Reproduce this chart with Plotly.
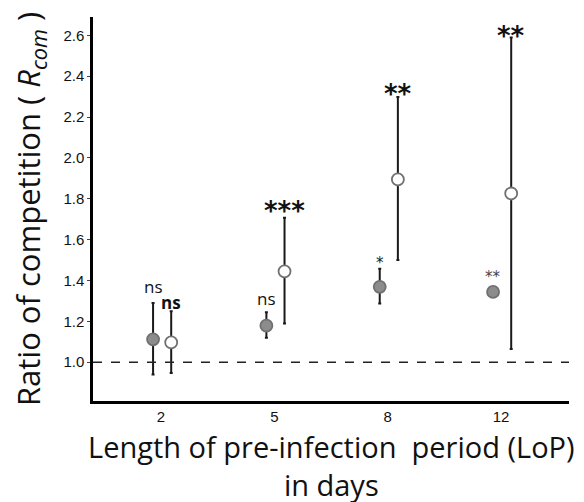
import plotly.graph_objects as go

categories = ["2", "5", "8", "12"]

# Series 1: grey filled points
grey_mean = [1.112, 1.179, 1.369, 1.344]
grey_upper = [1.29, 1.244, 1.458, 1.344]
grey_lower = [0.94, 1.12, 1.287, 1.344]
grey_sig = ["ns", "ns", "*", "**"]

# Series 2: open white points
white_mean = [1.097, 1.445, 1.895, 1.826]
white_upper = [1.25, 1.707, 2.298, 2.59]
white_lower = [0.947, 1.19, 1.50, 1.065]
white_sig = ["ns", "***", "**", "**"]

x_title = "Length of pre-infection  period (LoP)<br>in days"
y_title = "Ratio of competition ( <i>R<sub>com</sub></i> )"

idx = list(range(len(categories)))
gx = [i - 0.07 for i in idx]
wx = [i + 0.09 for i in idx]

fig = go.Figure()

def add_series(xs, mean, up, lo, fill):
    fig.add_trace(go.Scatter(
        x=xs, y=mean, mode="markers",
        marker=dict(size=12, color=fill, line=dict(color="#707070", width=1.8)),
        error_y=dict(type="data", symmetric=False,
                     array=[u - m for u, m in zip(up, mean)],
                     arrayminus=[m - l for m, l in zip(mean, lo)],
                     color="#1a1a1a", thickness=2, width=1.5),
        showlegend=False,
    ))

add_series(gx, grey_mean, grey_upper, grey_lower, "#8c8c8c")
add_series(wx, white_mean, white_upper, white_lower, "white")

# reference line at 1.0
fig.add_shape(type="line", xref="paper", x0=0, x1=1, yref="y", y0=1.0, y1=1.0,
              line=dict(color="#222", width=1.5, dash="dash"))

ns_font = "Open Sans"
star_font = "DejaVu Sans"

# grey series labels
grey_style = [
    dict(font=dict(family=ns_font, size=17, color="#111"), yshift=3, text="ns"),
    dict(font=dict(family=ns_font, size=17, color="#111"), yshift=0, text="ns"),
    dict(font=dict(family=star_font, size=15, color="#222"), yshift=-5, text="*"),
    dict(font=dict(family=star_font, size=15, color="#444"), yshift=4, text="**"),
]
for x, y, t, st in zip(gx, grey_upper, grey_sig, grey_style):
    fig.add_annotation(x=x, y=y, text=st["text"], showarrow=False, yanchor="bottom",
                       yshift=st["yshift"], font=st["font"])

white_style = [
    dict(font=dict(family=ns_font, size=17, color="#111"), yshift=-5, text="<b>ns</b>"),
    dict(font=dict(family=star_font, size=26, color="#111"), yshift=-10, text="<b>***</b>"),
    dict(font=dict(family=star_font, size=26, color="#111"), yshift=-14, text="<b>**</b>"),
    dict(font=dict(family=star_font, size=26, color="#111"), yshift=-16, text="<b>**</b>"),
]
for x, y, t, st in zip(wx, white_upper, white_sig, white_style):
    fig.add_annotation(x=x, y=y, text=st["text"], showarrow=False, yanchor="bottom",
                       yshift=st["yshift"], font=st["font"])

# x-axis title (placed as paper annotation for exact position)
fig.add_annotation(x=0.5, y=0, xref="paper", yref="paper", xanchor="center",
                   yanchor="top", yshift=-24, text=x_title, showarrow=False,
                   font=dict(family="Open Sans", size=29, color="#111"))

fig.update_layout(
    width=584, height=502,
    margin=dict(l=93, r=15, t=17, b=101),
    plot_bgcolor="white", paper_bgcolor="white",
    font=dict(family="Liberation Sans, Arial", color="#111"),
    xaxis=dict(
        range=[-0.6, 3.6], tickvals=idx, ticktext=categories,
        showline=True, linecolor="black", linewidth=2.5,
        ticks="", showgrid=False, zeroline=False, automargin=False,
        tickfont=dict(size=15, color="#111"),
    ),
    yaxis=dict(
        range=[0.81, 2.69], tickvals=[1.0, 1.2, 1.4, 1.6, 1.8, 2.0, 2.2, 2.4, 2.6],
        tickformat=".1f",
        showline=True, linecolor="black", linewidth=2.5,
        ticks="outside", ticklen=3, tickwidth=1, tickcolor="#444",
        showgrid=False, zeroline=False, automargin=False,
        tickfont=dict(size=15, color="#111"),
        title=dict(text=y_title,
                   font=dict(family="Open Sans", size=31, color="#111"), standoff=14),
    ),
)

fig.write_html("out.html")
